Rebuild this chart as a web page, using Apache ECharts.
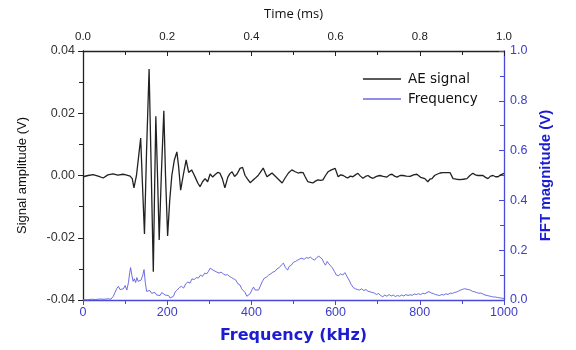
<!DOCTYPE html>
<html>
<head>
<meta charset="utf-8">
<script src="https://cdn.jsdelivr.net/npm/echarts@6/dist/echarts.min.js"></script>
<style>html,body{margin:0;padding:0;background:#fff}#c{width:576px;height:350px}</style>
</head>
<body>
<div id="c"></div>
<script>
const aeTime = [0,0.012,0.024,0.036,0.048,0.059,0.071,0.083,0.095,0.102,0.112,0.117,0.121,0.124,0.127,0.132,0.137,0.141,0.146,0.151,0.157,0.162,0.167,0.170,0.173,0.177,0.181,0.186,0.192,0.196,0.201,0.206,0.211,0.217,0.223,0.227,0.232,0.238,0.245,0.251,0.258,0.263,0.268,0.273,0.278,0.284,0.290,0.296,0.302,0.308,0.314,0.320,0.325,0.331,0.337,0.344,0.349,0.354,0.360,0.366,0.373,0.379,0.385,0.391,0.397,0.401,0.408,0.416,0.422,0.428,0.433,0.437,0.443,0.449,0.455,0.461,0.467,0.473,0.480,0.488,0.496,0.504,0.511,0.517,0.523,0.528,0.534,0.540,0.546,0.552,0.558,0.564,0.570,0.576,0.582,0.590,0.599,0.606,0.612,0.618,0.624,0.629,0.635,0.641,0.647,0.653,0.659,0.665,0.671,0.677,0.683,0.689,0.697,0.705,0.713,0.722,0.728,0.734,0.740,0.746,0.753,0.760,0.768,0.777,0.785,0.793,0.802,0.812,0.819,0.824,0.829,0.835,0.841,0.848,0.855,0.864,0.872,0.879,0.887,0.895,0.903,0.912,0.919,0.926,0.932,0.938,0.944,0.950,0.956,0.962,0.968,0.974,0.980,0.986,0.992,1.0];
const aeAmp = [-0.0004,0.0,0.0003,-0.0002,-0.0008,0.0002,0.0005,0.0001,0.0004,0.0002,-0.0002,-0.001,-0.004,-0.002,0.0,0.006,0.012,-0.002,-0.0188,0.008,0.0342,0.002,-0.0309,-0.005,0.019,0.0,-0.0207,0.0,0.0208,0.0,-0.0194,-0.008,0.0,0.005,0.0076,0.003,-0.0047,0.0,0.005,0.001,0.0018,0.0005,-0.001,-0.0025,-0.0036,-0.002,-0.001,-0.002,0.0005,-0.0005,0.0003,0.001,0.0008,-0.001,-0.004,-0.0005,0.0006,0.0012,-0.0003,0.0005,0.0023,0.0026,0.0,-0.0012,-0.0023,-0.0025,-0.001,0.0,0.0012,0.0024,0.0008,-0.0004,0.0002,0.0008,0.0,-0.0008,-0.0016,-0.0024,-0.0008,0.0008,0.0018,0.0012,0.0008,0.001,0.0009,-0.0005,-0.002,-0.0022,-0.0024,-0.0018,-0.0014,-0.0016,-0.0014,0.0,0.0012,0.0018,0.0023,-0.0004,0.0002,0.0,-0.0005,-0.0008,-0.0002,-0.0004,0.0002,0.0007,-0.0002,-0.0009,-0.0003,0.0,-0.0006,-0.0009,-0.0003,0.0,-0.0003,-0.0005,0.0002,0.0004,-0.0002,-0.0005,0.0,0.0,-0.0002,-0.0003,0.0002,0.0004,-0.0006,-0.001,-0.002,-0.0012,-0.001,0.0,0.0004,0.0008,0.0009,0.0009,0.0009,-0.001,-0.0012,-0.0013,-0.0012,-0.001,0.0,0.0007,0.0002,0.0,0.0,0.0,-0.0006,-0.001,-0.0002,0.0,-0.0004,-0.0004,0.0002,0.0007];
const fftFreq = [0,10,20,30,40,50,60,66,72,76,80,84,88,92,96,100,104,108,111,113,116,119,122,125,128,131,134,138,142,145,148,151,155,159,163,167,171,175,179,183,187,191,195,199,203,207,211,215,219,224,229,234,239,244,249,254,259,264,269,274,279,284,289,294,298,302,306,309,313,318,323,328,333,338,343,348,353,358,363,368,373,377,381,385,389,393,397,401,405,409,413,417,421,426,431,436,441,446,451,456,461,466,471,476,481,486,490,495,500,505,510,515,520,525,530,535,540,545,550,555,560,564,568,572,576,580,584,588,592,597,602,607,612,617,622,627,632,637,642,647,652,657,662,667,672,677,682,687,692,697,702,707,712,717,722,727,732,737,742,747,752,757,762,767,772,777,782,787,792,797,802,807,812,817,822,827,832,837,842,847,852,857,862,867,872,877,882,887,892,897,902,907,911,915,920,925,930,935,940,945,950,955,960,965,970,975,980,985,990,995,1000];
const fftMag = [0.002,0.001,0.003,0.002,0.004,0.003,0.005,0.003,0.015,0.03,0.045,0.055,0.042,0.05,0.045,0.058,0.04,0.07,0.11,0.13,0.1,0.075,0.085,0.07,0.09,0.075,0.068,0.08,0.1,0.122,0.07,0.035,0.03,0.038,0.027,0.025,0.03,0.02,0.026,0.018,0.03,0.022,0.02,0.012,0.018,0.008,0.003,0.015,0.033,0.04,0.05,0.055,0.048,0.065,0.072,0.068,0.085,0.082,0.09,0.088,0.1,0.095,0.108,0.105,0.115,0.128,0.135,0.12,0.125,0.112,0.108,0.112,0.105,0.1,0.102,0.095,0.09,0.085,0.08,0.065,0.06,0.045,0.04,0.03,0.015,0.012,0.025,0.04,0.052,0.04,0.035,0.04,0.055,0.075,0.088,0.092,0.1,0.105,0.112,0.115,0.125,0.13,0.14,0.148,0.13,0.12,0.135,0.14,0.152,0.155,0.16,0.165,0.168,0.163,0.17,0.168,0.172,0.165,0.16,0.17,0.176,0.178,0.165,0.15,0.14,0.155,0.145,0.148,0.13,0.115,0.1,0.098,0.105,0.1,0.11,0.095,0.08,0.062,0.05,0.045,0.042,0.04,0.045,0.038,0.042,0.035,0.033,0.03,0.028,0.022,0.026,0.018,0.013,0.02,0.015,0.022,0.016,0.02,0.014,0.018,0.015,0.02,0.016,0.022,0.018,0.021,0.019,0.024,0.022,0.025,0.022,0.027,0.025,0.03,0.034,0.028,0.026,0.022,0.02,0.018,0.022,0.02,0.025,0.022,0.028,0.026,0.03,0.032,0.036,0.04,0.043,0.045,0.048,0.042,0.04,0.035,0.033,0.03,0.027,0.028,0.024,0.02,0.018,0.016,0.014,0.012,0.012,0.01,0.009,0.007,0.006];
const timeTicks = [0, 0.2, 0.4, 0.6, 0.8, 1.0];
const freqTicks = [0, 200, 400, 600, 800, 1000];

const BLK = '#222222';
const BLU = '#4a4ad8';
const BLU_DARK = '#1c1cd0';
const tickFont = 'Liberation Sans, Arial, sans-serif';

const chart = echarts.init(document.getElementById('c'));
chart.setOption({
  animation: false,
  backgroundColor: '#ffffff',
  grid: { left: 83, right: 72, top: 51, bottom: 50, containLabel: false },
  legend: {
    left: 358, top: 67, orient: 'vertical',
    itemWidth: 38, itemHeight: 1.5, itemGap: 6,
    textStyle: { fontFamily: 'DejaVu Sans, Verdana, sans-serif', fontSize: 13.5, color: '#111', padding: [0, 0, 0, 2] },
    data: [{ name: 'AE signal', icon: 'rect' }, { name: 'Frequency', icon: 'rect' }]
  },
  xAxis: [
    {
      type: 'value', position: 'bottom', min: freqTicks[0], max: freqTicks[freqTicks.length - 1], interval: 200,
      name: 'Frequency (kHz)', nameLocation: 'middle', nameGap: 28,
      nameTextStyle: { fontFamily: 'DejaVu Sans, Verdana, sans-serif', fontWeight: 'bold', fontSize: 16, color: BLU_DARK },
      axisLine: { onZero: false, lineStyle: { color: BLU, width: 1.3 } },
      axisTick: { inside: false, length: 5, lineStyle: { color: BLU } },
      minorTick: { show: true, splitNumber: 2, length: 4, lineStyle: { color: BLU } },
      axisLabel: { margin: 6, fontFamily: tickFont, fontSize: 12.5, color: '#3c3cc8', formatter: v => String(v) },
      splitLine: { show: false }
    },
    {
      type: 'value', position: 'top', min: timeTicks[0], max: timeTicks[timeTicks.length - 1], interval: 0.2,
      name: 'Time (ms)', nameLocation: 'middle', nameGap: 30,
      nameTextStyle: { fontFamily: 'Open Sans, sans-serif', fontSize: 13, color: '#111' },
      axisLine: { onZero: false, lineStyle: { color: BLK, width: 1.3 } },
      axisTick: { inside: true, length: 5, lineStyle: { color: BLK } },
      minorTick: { show: true, splitNumber: 2, length: 4, lineStyle: { color: BLK } },
      axisLabel: { margin: 8, fontFamily: tickFont, fontSize: 11.5, color: '#222', formatter: v => v.toFixed(1) },
      splitLine: { show: false }
    }
  ],
  yAxis: [
    {
      type: 'value', position: 'left', min: -0.04, max: 0.04, interval: 0.02,
      name: 'Signal amplitude (V)', nameLocation: 'middle', nameGap: 54,
      nameTextStyle: { fontFamily: tickFont, fontSize: 13, color: '#111' },
      axisLine: { onZero: false, lineStyle: { color: BLK, width: 1.3 } },
      axisTick: { inside: false, length: 5, lineStyle: { color: BLK } },
      minorTick: { show: true, splitNumber: 2, length: 4, lineStyle: { color: BLK } },
      axisLabel: { margin: 8, fontFamily: tickFont, fontSize: 12.5, color: '#333', formatter: v => v.toFixed(2) },
      splitLine: { show: false }
    },
    {
      type: 'value', position: 'right', min: 0, max: 1.0, interval: 0.2,
      name: 'FFT magnitude (V)', nameLocation: 'middle', nameGap: 30,
      nameTextStyle: { fontFamily: tickFont, fontWeight: 'bold', fontSize: 15, color: BLU_DARK },
      axisLine: { onZero: false, lineStyle: { color: BLU, width: 1.3 } },
      axisTick: { inside: true, length: 5, lineStyle: { color: BLU } },
      minorTick: { show: true, splitNumber: 2, length: 4, lineStyle: { color: BLU } },
      axisLabel: { margin: 6, fontFamily: tickFont, fontSize: 12.5, color: '#3c3cc8', formatter: v => v.toFixed(1) },
      splitLine: { show: false }
    }
  ],
  series: [
    {
      name: 'AE signal', type: 'line', xAxisIndex: 1, yAxisIndex: 0,
      symbol: 'none', lineStyle: { color: BLK, width: 1.3 }, itemStyle: { color: BLK },
      data: aeTime.map((t, i) => [t, aeAmp[i]])
    },
    {
      name: 'Frequency', type: 'line', xAxisIndex: 0, yAxisIndex: 1,
      symbol: 'none', lineStyle: { color: '#5c5ce0', width: 0.9 }, itemStyle: { color: '#6a6ae4' },
      data: fftFreq.map((f, i) => [f, fftMag[i]])
    }
  ]
});
</script>
</body>
</html>
